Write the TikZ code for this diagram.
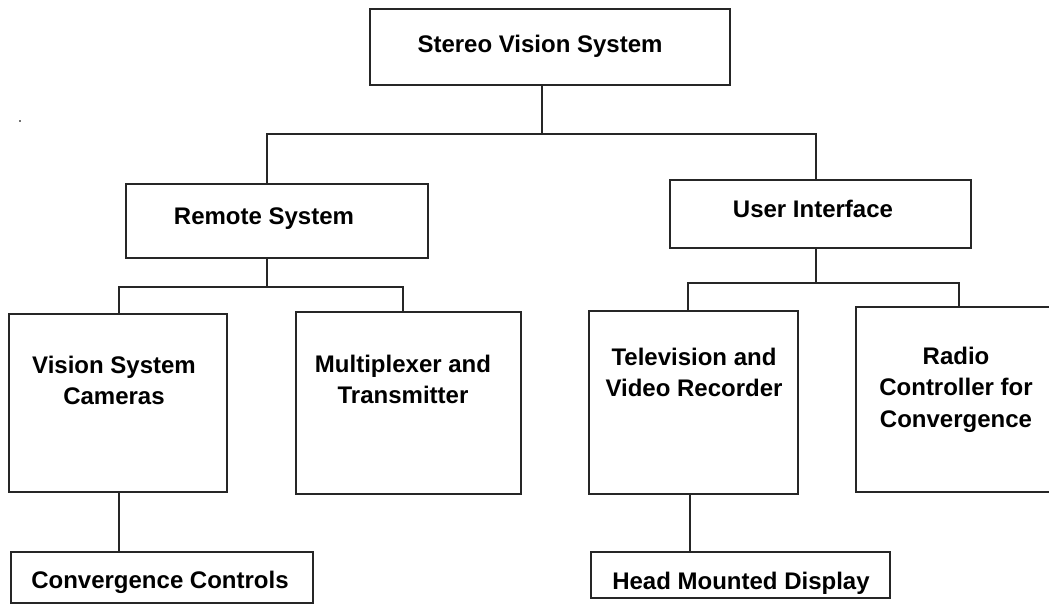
\documentclass[tikz,border=0pt]{standalone}
\usepackage{fontspec}
\setmainfont{Liberation Sans}
\begin{document}
\begin{tikzpicture}[x=1pt,y=-1pt,
  box/.style={draw=black!85, line width=1.8pt, rectangle, inner sep=0pt},
  lbl/.style={font=\bfseries\fontsize{24}{31.5}\selectfont, align=center, inner sep=0pt, text=black},
  wire/.style={draw=black!85, line width=1.8pt}]
\useasboundingbox (0,0) rectangle (1049,605);
\clip (0,0) rectangle (1049,605);

% boxes
\node[box, minimum width=360, minimum height=76]  (top)    at (550,47)    {};
\node[box, minimum width=302, minimum height=74]  (remote) at (277,221)   {};
\node[box, minimum width=301, minimum height=68]  (ui)     at (820.5,214) {};
\node[box, minimum width=218, minimum height=178] (vsc)    at (118,403)   {};
\node[box, minimum width=225, minimum height=182] (mux)    at (408.5,403) {};
\node[box, minimum width=209, minimum height=183] (tv)     at (693.5,402.5) {};
\node[box, minimum width=214, minimum height=185] (radio)  at (963,399.5) {};
\node[box, minimum width=302, minimum height=51]  (cc)     at (162,577.5) {};
\node[box, minimum width=299, minimum height=46]  (hmd)    at (740.5,575) {};

% labels
\node[lbl, anchor=base]  (top-t)    at (540,52)    {Stereo Vision System};
\node[lbl, anchor=base]  (remote-t) at (264,224)   {Remote System};
\node[lbl, anchor=base]  (ui-t)     at (813,217)   {User Interface};
\node[lbl, anchor=north] (vsc-t)    at (114,355.5) {Vision System\\Cameras};
\node[lbl, anchor=north] (mux-t)    at (403,354.5) {Multiplexer and\\Transmitter};
\node[lbl, anchor=north] (tv-t)     at (694,347.5) {Television and\\Video Recorder};
\node[lbl, anchor=north] (radio-t)  at (956,346.5) {Radio\\Controller for\\Convergence};
\node[lbl, anchor=base]  (cc-t)     at (160,588)   {Convergence Controls};
\node[lbl, anchor=base]  (hmd-t)    at (741,589)   {Head Mounted Display};

% junction points of the tree
\coordinate (j0)  at (542,134);
\coordinate (j0l) at (267,134);
\coordinate (j0r) at (816,134);
\coordinate (j1)  at (267,287);
\coordinate (j1l) at (119,287);
\coordinate (j1r) at (403,287);
\coordinate (j2)  at (816,283);
\coordinate (j2l) at (688,283);
\coordinate (j2r) at (959,283);
\coordinate (k2)  at (690,520);

% connectors
\draw[wire] (top.south -| j0) -- (j0);
\draw[wire] (remote.north -| j0l) |- (j0r) -- (ui.north -| j0r);

\draw[wire] (remote.south -| j1) -- (j1);
\draw[wire] (vsc.north -| j1l) |- (j1r) -- (mux.north -| j1r);

\draw[wire] (ui.south -| j2) -- (j2);
\draw[wire] (tv.north -| j2l) |- (j2r) -- (radio.north -| j2r);

\draw[wire] (vsc.south -| j1l) -- (cc.north -| j1l);
\draw[wire] (tv.south -| k2) -- (hmd.north -| k2);

% stray speck on the left
\fill[black!55] (18.5,119.5) rectangle (20.5,121.5);
\end{tikzpicture}
\end{document}
